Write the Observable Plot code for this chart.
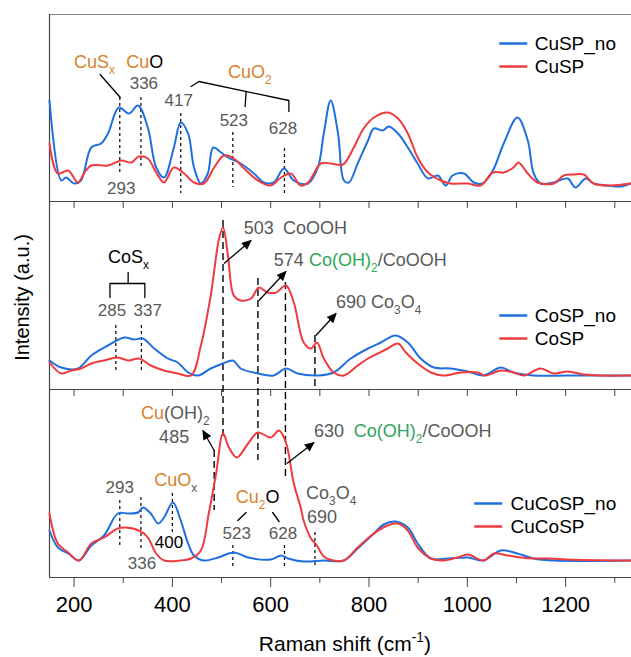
<!DOCTYPE html>
<html><head><meta charset="utf-8">
<script src="https://cdn.jsdelivr.net/npm/d3@7"></script>
<script src="https://cdn.jsdelivr.net/npm/@observablehq/plot@0.6"></script>
<style>body{margin:0;background:#fff}</style>
</head><body><div id="chart"></div>
<script>
// ---- spectra: [Raman shift (cm-1), intensity (a.u.)] ----
const cuspNo = [[150,101],[174,21],[184,24],[200,18],[214,21],[235,54],[255,58],[269,68],[291,94],[312,88],[330,96],[350,74],[367,34],[383,24],[403,54],[417,79],[432,68],[444,34],[458,18],[472,28],[483,54],[499,49],[513,44],[539,38],[566,28],[586,19],[606,19],[627,33],[647,21],[676,18],[696,34],[708,68],[722,101],[737,68],[749,21],[759,19],[777,38],[798,61],[810,73],[828,71],[840,75],[859,68],[879,54],[899,38],[920,23],[940,26],[956,16],[970,26],[993,28],[1013,19],[1031,18],[1052,31],[1074,58],[1102,84],[1123,61],[1135,28],[1149,18],[1176,19],[1204,23],[1220,14],[1241,23],[1257,18],[1285,16],[1312,15],[1332,18]];
const cusp = [[150,58],[167,28],[188,31],[208,19],[220,28],[235,36],[269,36],[296,41],[316,39],[332,45],[350,43],[367,29],[383,19],[403,34],[424,28],[444,19],[464,18],[485,34],[505,46],[525,43],[546,33],[574,21],[600,16],[621,24],[641,28],[661,16],[676,19],[702,38],[722,38],[747,37],[769,54],[789,73],[810,84],[838,89],[859,83],[879,68],[899,44],[920,29],[946,21],[966,18],[1001,18],[1027,16],[1052,29],[1074,29],[1094,34],[1104,39],[1123,28],[1143,19],[1176,18],[1196,26],[1216,27],[1237,27],[1257,18],[1291,16],[1332,18]];
const cospNo = [[150,29],[174,22],[208,21],[235,34],[269,44],[302,52],[322,50],[340,51],[363,41],[391,31],[411,27],[432,17],[452,14],[478,21],[503,26],[523,29],[539,21],[574,16],[606,14],[631,21],[655,16],[696,14],[728,17],[763,31],[798,41],[824,47],[854,54],[879,47],[905,31],[932,22],[966,21],[1001,18],[1033,14],[1068,22],[1094,17],[1135,14],[1204,14],[1332,14]];
const cosp = [[150,27],[174,16],[194,19],[214,21],[235,26],[261,29],[289,32],[310,29],[332,31],[356,24],[383,19],[411,16],[438,14],[458,44],[478,94],[495,151],[503,162],[513,134],[525,94],[539,89],[560,91],[576,102],[594,97],[611,97],[631,104],[647,87],[667,47],[682,41],[694,47],[708,31],[728,17],[749,14],[777,24],[798,31],[818,36],[838,41],[859,46],[875,37],[899,26],[926,17],[952,14],[987,17],[1021,17],[1037,14],[1068,19],[1094,17],[1115,14],[1149,21],[1176,16],[1204,18],[1237,15],[1271,14],[1332,14]];
const cucospNo = [[150,47],[167,30],[188,24],[210,17],[235,32],[261,42],[289,64],[310,64],[330,65],[340,70],[356,64],[371,54],[383,60],[401,75],[417,57],[432,34],[444,22],[464,17],[493,20],[525,25],[554,20],[600,18],[621,22],[635,19],[667,16],[708,17],[749,17],[777,29],[810,44],[830,53],[854,56],[879,50],[899,34],[926,19],[960,19],[1001,20],[1033,17],[1068,27],[1102,24],[1135,19],[1176,17],[1332,17]];
const cucosp = [[150,64],[167,34],[188,25],[210,17],[235,34],[261,40],[289,49],[306,50],[336,46],[350,40],[367,24],[383,17],[417,17],[438,19],[458,27],[474,64],[489,104],[503,144],[515,130],[531,120],[554,134],[574,145],[600,140],[617,147],[631,135],[647,94],[661,70],[667,57],[682,39],[694,32],[708,21],[728,17],[749,17],[777,30],[810,44],[838,52],[859,54],[879,47],[899,30],[926,19],[952,17],[980,20],[1001,23],[1033,17],[1054,24],[1082,22],[1109,20],[1135,19],[1169,19],[1204,18],[1332,17]];

// ---- tick labels ----
const majorTicks = [200, 400, 600, 800, 1000, 1200];
const minorTicks = [300, 500, 700, 900, 1100, 1300];
const innerTicks = [200,300,400,500,600,700,800,900,1000,1100,1200,1300];

// ---- panels (stack offsets in a.u.) ----
const panelNames = ["top", "middle", "bottom"];
const panelOffsets = [376, 188, 0];
const panelTop = 563;
const seriesNames = ["CuSP_no", "CuSP", "CoSP_no", "CoSP", "CuCoSP_no", "CuCoSP"];
const seriesData = [cuspNo, cusp, cospNo, cosp, cucospNo, cucosp];
const seriesPanel = [0, 0, 1, 1, 2, 2];
const seriesKind = ["no", "sp", "no", "sp", "no", "sp"];

const BLUE = "#1f6fe0", RED = "#ef3b3e";
const rows = seriesData.flatMap((pts, i) => pts.map(([x, v]) => ({
  x, y: panelOffsets[seriesPanel[i]] + v, series: seriesNames[i], kind: seriesKind[i]})));

// ---- annotations ----
const dashShort = [
  {x:293,y1:480,y2:402},{x:336,y1:480,y2:409},{x:417,y1:464,y2:384},{x:523,y1:445,y2:390},{x:628,y1:429,y2:384},
  {x:285,y1:252,y2:207},{x:337,y1:252,y2:207},
  {x:293,y1:77,y2:30},{x:336,y1:80,y2:27},{x:400,y1:84,y2:44},{x:523,y1:32,y2:10},{x:628,y1:32,y2:10},{x:690,y1:45,y2:10}
];
const dashLong = [
  {x:503,y1:357,y2:140},{x:574,y1:299,y2:117},{x:630,y1:295,y2:100},{x:690,y1:242,y2:188},{x:485,y1:127,y2:67}
];
const arrows = [
  {x1:505,y1:314,x2:560,y2:337},{x1:576,y1:277,x2:631,y2:306},{x1:692,y1:242,x2:733,y2:264},
  {x1:485,y1:127,x2:462,y2:147},{x1:633,y1:114,x2:688,y2:135}
];
const leaders = [
  {id:"a",x:253,y:503},{id:"a",x:294,y:480},
  {id:"b",x:438,y:491},{id:"b",x:454,y:496},{id:"b",x:637,y:477},{id:"b",x:637,y:466},
  {id:"c",x:550,y:486},{id:"c",x:548,y:471},
  {id:"d",x:273,y:280},{id:"d",x:273,y:294},{id:"d",x:344,y:294},{id:"d",x:344,y:280},
  {id:"e",x:310,y:294},{id:"e",x:310,y:305},
  {id:"f",x:550,y:65},{id:"f",x:533,y:57},
  {id:"g",x:604,y:65},{id:"g",x:617,y:56}
];
// label markup: segments "style:text", style = colour (o orange, g green, k black, d gray) + b(sub)/p(sup)
const labelsStart = [
  {x:200,y:515,t:"o:CuS|ob:x"},{x:306,y:515,t:"o:Cu|k:O"},{x:513,y:505,t:"o:CuO|ob:2"},
  {x:269,y:320,t:"k:CoS|kb:x"},
  {x:545,y:349,t:"503"},{x:625,y:349,t:"d:CoOOH"},
  {x:606,y:317,t:"574"},{x:678,y:317,t:"g:Co(OH)|gb:2|d:/CoOOH"},
  {x:733,y:275,t:"d:690 Co|db:3|d:O|db:4"},
  {x:336,y:164,t:"o:Cu|d:(OH)|db:2"},{x:373,y:140,t:"485"},
  {x:688,y:146,t:"630"},{x:769,y:146,t:"g:Co(OH)|gb:2|d:/CoOOH"},
  {x:363,y:97,t:"o:CuO|db:x"},{x:529,y:80,t:"o:Cu|ob:2|k:O"},
  {x:672,y:84,t:"d:Co|db:3|d:O|db:4"},{x:674,y:60,t:"690"}
];
const labelsMid = [
  {x:296,y:389,t:"293"},{x:342,y:494,t:"336"},{x:413,y:477,t:"417"},{x:525,y:457,t:"523"},{x:625,y:449,t:"628"},
  {x:277,y:267,t:"285"},{x:350,y:267,t:"337"},
  {x:293,y:90,t:"293"},{x:338,y:14,t:"336"},{x:531,y:44,t:"523"},{x:625,y:44,t:"628"}
];
const labelsBlack = [{x:393,y:35,t:"400"}];

// ---- legends ----
const legendNames = seriesNames;
const legendY = [534, 511, 262, 239, 74, 51];
const legendX1 = [1066, 1066, 1066, 1066, 1015, 1015];
const legendX2 = [1123, 1123, 1123, 1123, 1072, 1072];
const legendTX = [1137, 1137, 1137, 1137, 1088, 1088];
const legend = legendNames.map((n, i) => ({name: n, kind: seriesKind[i], y: legendY[i], x1: legendX1[i], x2: legendX2[i], tx: legendTX[i]}));

const FONT = "'Liberation Sans', Arial, sans-serif";
const GRAY = "#595959";

const plot = Plot.plot({
  width: 631, height: 657,
  marginLeft: 49, marginRight: 0, marginTop: 14, marginBottom: 80,
  style: {fontFamily: FONT, fontSize: "17px", background: "#fff", color: "#000"},
  x: {domain: [150, 1334], label: null},
  y: {domain: [0, panelTop], axis: null},
  color: {domain: ["no", "sp"], range: [BLUE, RED]},
  marks: [
    // frame and panel separators
    Plot.ruleY([0, 188, 376], {stroke: "#444", strokeWidth: 1.2}),
    Plot.ruleY([panelTop], {stroke: "#8a8a8a", strokeWidth: 1.2}),
    Plot.ruleX([150], {y1: 0, y2: panelTop, stroke: "#444", strokeWidth: 1.2}),
    Plot.ruleX(innerTicks, {x: d => d, y1: panelOffsets[0], y2: panelOffsets[0] - 7, stroke: "#444"}),
    Plot.ruleX(innerTicks, {x: d => d, y1: panelOffsets[1], y2: panelOffsets[1] - 7, stroke: "#444"}),
    Plot.axisX({ticks: majorTicks, tickSize: 10, tickPadding: 9, fontSize: 22, stroke: "#444", tickFormat: d => String(d), label: null}),
    Plot.axisX({ticks: minorTicks, tickSize: 6, tickFormat: () => "", stroke: "#444", label: null}),
    // dashed markers
    Plot.ruleX(dashShort, {x: "x", y1: "y1", y2: "y2", stroke: "#000", strokeWidth: 1.2, strokeDasharray: "3,3"}),
    Plot.ruleX(dashLong, {x: "x", y1: "y1", y2: "y2", stroke: "#000", strokeWidth: 1.4, strokeDasharray: "7,4"}),
    // spectra
    Plot.line(rows.filter(d => d.kind === "no"), {x: "x", y: "y", z: "series", stroke: "kind", strokeWidth: 2, curve: "catmull-rom"}),
    Plot.line(rows.filter(d => d.kind === "sp"), {x: "x", y: "y", z: "series", stroke: "kind", strokeWidth: 2, curve: "catmull-rom"}),
    // leaders and arrows
    Plot.line(leaders, {x: "x", y: "y", z: "id", stroke: "#000", strokeWidth: 1.3}),
    Plot.link(arrows, {x1: "x1", y1: "y1", x2: "x2", y2: "y2", stroke: "#000", strokeWidth: 1.3}),
    // labels
    Plot.text(labelsStart, {x: "x", y: "y", text: "t", textAnchor: "start", fill: GRAY, fontSize: 18}),
    Plot.text(labelsMid, {x: "x", y: "y", text: "t", fill: GRAY, fontSize: 17}),
    Plot.text(labelsBlack, {x: "x", y: "y", text: "t", fill: "#000", fontSize: 17}),
    // legends
    Plot.ruleY(legend, {y: "y", x1: "x1", x2: "x2", stroke: "kind", strokeWidth: 2.5}),
    Plot.text(legend, {x: "tx", y: "y", text: "name", textAnchor: "start", fill: "#000", fontSize: 19}),
    // axis titles
    Plot.text(["k:Raman shift (cm|kp:-1|k:)"], {x: 751, y: -67, text: d => d, fill: "#000", fontSize: 21}),
    Plot.text(["Intensity (a.u.)"], {x: 96, y: 280, text: d => d, rotate: -90, fill: "#000", fontSize: 20})
  ]
});

document.getElementById("chart").appendChild(plot);

// arrowheads
const svg = d3.select(plot);
svg.append("defs").append("marker")
  .attr("id", "ahead").attr("viewBox", "0 0 10 10").attr("refX", 9).attr("refY", 5)
  .attr("markerUnits", "userSpaceOnUse").attr("markerWidth", 11).attr("markerHeight", 10)
  .attr("orient", "auto")
  .append("path").attr("d", "M0,0.5L10,5L0,9.5z").attr("fill", "#000");
svg.selectAll("g[aria-label='link'] path").attr("marker-end", "url(#ahead)");

// rich text (colours, sub/superscripts)
const COLORS = {o: "#d9822b", g: "#2ea65b", k: "#000", d: GRAY};
svg.selectAll("text").each(function() {
  const t = this.textContent;
  if (!/^[a-z]{1,2}:/.test(t)) return;
  const fs = parseFloat(getComputedStyle(this).fontSize) || 17;
  const sel = d3.select(this);
  sel.text(null);
  let shift = 0;
  for (const seg of t.split("|")) {
    const i = seg.indexOf(":");
    const st = seg.slice(0, i), txt = seg.slice(i + 1);
    const target = st.includes("b") ? 0.3 * fs : st.includes("p") ? -0.42 * fs : 0;
    const ts = sel.append("tspan").attr("fill", COLORS[st[0]]).text(txt);
    if (target !== shift) ts.attr("dy", target - shift);
    if (target !== 0) ts.attr("font-size", 0.66 * fs);
    shift = target;
  }
});
</script>
</body></html>
